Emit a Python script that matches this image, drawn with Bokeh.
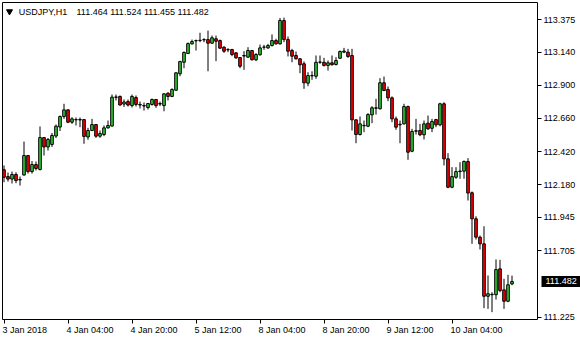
from bokeh.plotting import figure
from bokeh.models import LinearAxis, FixedTicker, PrintfTickFormatter, ColumnDataSource, Label
from bokeh.embed import file_html
from bokeh.resources import INLINE

symbol = "USDJPY,H1"

opens = [
    112.289, 112.240, 112.222, 112.255, 112.219, 112.251, 112.392, 112.276, 112.327, 112.291,
    112.522, 112.454, 112.472, 112.533, 112.598, 112.674, 112.722, 112.633, 112.650, 112.652,
    112.652, 112.526, 112.573, 112.616, 112.532, 112.544, 112.592, 112.605, 112.815, 112.819,
    112.764, 112.782, 112.753, 112.811, 112.761, 112.753, 112.739, 112.761, 112.797, 112.764,
    112.753, 112.842, 112.819, 112.864, 112.983, 113.066, 113.129, 113.199, 113.223, 113.223,
    113.228, 113.230, 113.204, 113.236, 113.223, 113.175, 113.156, 113.158, 113.134, 113.100,
    113.115, 113.103, 113.151, 113.084, 113.120, 113.175, 113.170, 113.187, 113.223, 113.199,
    113.368, 113.230, 113.151, 113.115, 113.091, 113.055, 112.915, 112.970, 112.965, 113.066,
    113.066, 113.043, 113.062, 113.050, 113.095, 113.139, 113.139, 113.115, 112.650, 112.544,
    112.607, 112.604, 112.686, 112.734, 112.730, 112.918, 112.869, 112.809, 112.657, 112.614,
    112.621, 112.746, 112.423, 112.568, 112.573, 112.542, 112.626, 112.589, 112.652, 112.614,
    112.766, 112.368, 112.163, 112.235, 112.276, 112.279, 112.349, 112.123, 111.935, 111.802,
    111.754, 111.375, 111.386, 111.386, 111.573, 111.421, 111.339, 111.464]

highs = [
    112.320, 112.269, 112.276, 112.271, 112.240, 112.493, 112.392, 112.352, 112.349, 112.602,
    112.522, 112.519, 112.555, 112.616, 112.681, 112.766, 112.725, 112.669, 112.667, 112.667,
    112.656, 112.592, 112.657, 112.620, 112.573, 112.609, 112.645, 112.833, 112.833, 112.826,
    112.797, 112.797, 112.833, 112.826, 112.782, 112.775, 112.772, 112.804, 112.800, 112.782,
    112.842, 112.850, 112.878, 112.992, 113.077, 113.144, 113.209, 113.230, 113.230, 113.279,
    113.240, 113.295, 113.259, 113.259, 113.230, 113.182, 113.168, 113.163, 113.139, 113.103,
    113.146, 113.175, 113.155, 113.132, 113.194, 113.192, 113.199, 113.267, 113.236, 113.386,
    113.389, 113.252, 113.163, 113.144, 113.097, 113.072, 112.994, 113.001, 113.115, 113.115,
    113.098, 113.079, 113.115, 113.103, 113.151, 113.170, 113.163, 113.163, 112.652, 112.674,
    112.645, 112.698, 112.748, 112.802, 112.951, 112.963, 112.891, 112.819, 112.674, 112.645,
    112.766, 112.753, 112.585, 112.657, 112.621, 112.645, 112.681, 112.657, 112.657, 112.773,
    112.777, 112.409, 112.308, 112.308, 112.344, 112.356, 112.373, 112.132, 111.953, 111.814,
    111.881, 111.525, 111.404, 111.641, 111.638, 111.501, 111.530, 111.524]

lows = [
    112.199, 112.204, 112.190, 112.192, 112.175, 112.248, 112.262, 112.262, 112.284, 112.284,
    112.392, 112.428, 112.454, 112.519, 112.569, 112.657, 112.626, 112.621, 112.609, 112.597,
    112.477, 112.506, 112.568, 112.520, 112.520, 112.532, 112.587, 112.602, 112.790, 112.753,
    112.743, 112.746, 112.739, 112.746, 112.732, 112.717, 112.725, 112.753, 112.737, 112.750,
    112.712, 112.790, 112.814, 112.862, 112.965, 113.023, 113.127, 113.194, 113.151, 113.211,
    113.211, 113.001, 113.199, 113.074, 113.163, 113.134, 113.139, 113.110, 113.091, 113.023,
    113.011, 113.098, 113.079, 113.074, 113.115, 113.156, 113.163, 113.180, 113.194, 113.194,
    113.211, 113.108, 113.066, 113.086, 112.987, 112.874, 112.893, 112.939, 112.946, 113.055,
    113.035, 113.006, 113.043, 113.043, 113.091, 113.132, 113.098, 112.573, 112.481, 112.537,
    112.561, 112.597, 112.626, 112.688, 112.725, 112.857, 112.785, 112.633, 112.578, 112.481,
    112.616, 112.361, 112.416, 112.544, 112.532, 112.508, 112.578, 112.561, 112.597, 112.604,
    112.320, 112.156, 112.156, 112.224, 112.224, 112.224, 112.067, 111.754, 111.785, 111.713,
    111.289, 111.284, 111.260, 111.351, 111.404, 111.284, 111.332, 111.455]

closes = [
    112.235, 112.222, 112.255, 112.211, 112.216, 112.392, 112.276, 112.327, 112.298, 112.522,
    112.454, 112.508, 112.537, 112.604, 112.674, 112.722, 112.633, 112.657, 112.652, 112.649,
    112.530, 112.573, 112.616, 112.532, 112.551, 112.592, 112.609, 112.814, 112.813, 112.757,
    112.779, 112.757, 112.819, 112.761, 112.757, 112.750, 112.768, 112.797, 112.753, 112.768,
    112.838, 112.819, 112.869, 112.990, 113.071, 113.137, 113.201, 113.216, 113.221, 113.225,
    113.230, 113.204, 113.243, 113.218, 113.168, 113.146, 113.158, 113.122, 113.098, 113.037,
    113.111, 113.151, 113.084, 113.122, 113.170, 113.176, 113.187, 113.223, 113.199, 113.368,
    113.230, 113.146, 113.110, 113.091, 113.048, 112.918, 112.970, 112.968, 113.066, 113.068,
    113.043, 113.062, 113.048, 113.079, 113.144, 113.147, 113.108, 112.650, 112.544, 112.621,
    112.610, 112.688, 112.737, 112.737, 112.918, 112.862, 112.809, 112.657, 112.597, 112.618,
    112.746, 112.416, 112.566, 112.571, 112.542, 112.621, 112.585, 112.638, 112.614, 112.766,
    112.368, 112.163, 112.240, 112.276, 112.280, 112.349, 112.121, 111.935, 111.802, 111.754,
    111.375, 111.393, 111.389, 111.568, 111.416, 111.339, 111.458, 111.482]

bar_index = list(range(len(opens)))

x_tick_bars = [0, 16, 32, 48, 64, 80, 96, 112]
x_tick_labels = ["3 Jan 2018", "4 Jan 04:00", "4 Jan 20:00", "5 Jan 12:00",
                 "8 Jan 04:00", "8 Jan 20:00", "9 Jan 12:00", "10 Jan 04:00"]
price_ticks = [113.375, 113.140, 112.900, 112.660, 112.420, 112.180, 111.945, 111.705, 111.225]

FONT = "Liberation Sans"
FONT_PX = 9
BULL = "#32cd32"
BEAR = "#ff0000"
PX_PER_BAR = 4.0


def text_width_px(s):
    w = {" ": 0.278, ":": 0.278, "J": 0.5, ".": 0.278}
    return FONT_PX * sum(w.get(ch, 0.556) for ch in s)


# MT4 draws date labels starting at the tick: centre them half a label width to the right
label_pos = [round(b + (text_width_px(t) / 2 - 1.5) / PX_PER_BAR, 4)
             for b, t in zip(x_tick_bars, x_tick_labels)]

src = ColumnDataSource(dict(
    x=bar_index,
    high=highs,
    low=lows,
    top=[max(o, c) for o, c in zip(opens, closes)],
    bottom=[min(o, c) for o, c in zip(opens, closes)],
    color=[BULL if c > o else BEAR for o, c in zip(opens, closes)],
))

RIGHT_BORDER = 43
p = figure(width=580, height=340, x_range=(-0.375, 133.375), y_range=(111.207, 113.498),
           output_backend="svg", toolbar_location=None,
           x_axis_location=None, y_axis_location=None,
           min_border_left=2, min_border_top=2, min_border_right=RIGHT_BORDER,
           min_border_bottom=21)
p.background_fill_color = "white"
p.border_fill_color = "white"
p.outline_line_color = "black"
p.outline_line_width = 1
p.outline_line_alpha = 1.0
for g in p.grid:
    g.visible = False

# bottom axis 1: tick marks only
xticks = LinearAxis(ticker=FixedTicker(ticks=x_tick_bars))
xticks.axis_line_color = None
xticks.major_tick_in = 0
xticks.major_tick_out = 4
xticks.major_tick_line_color = "black"
xticks.minor_tick_line_color = None
xticks.major_label_standoff = 0
xticks.major_label_text_font_size = "0px"
xticks.major_label_overrides = {b: "" for b in x_tick_bars}
p.add_layout(xticks, "below")

# bottom axis 2: date labels, left-aligned at their ticks
xlabels = LinearAxis(ticker=FixedTicker(ticks=label_pos),
                     major_label_overrides={pos: t for pos, t in zip(label_pos, x_tick_labels)})
xlabels.axis_line_color = None
xlabels.major_tick_in = 0
xlabels.major_tick_out = 0
xlabels.major_tick_line_color = None
xlabels.minor_tick_line_color = None
xlabels.major_label_standoff = 1
xlabels.major_label_text_font = FONT
xlabels.major_label_text_font_size = f"{FONT_PX}px"
xlabels.major_label_text_color = "black"
p.add_layout(xlabels, "below")

# right price scale
TICK_OUT = 4
STANDOFF = 2
yaxis = LinearAxis(ticker=FixedTicker(ticks=price_ticks),
                   formatter=PrintfTickFormatter(format="%.3f"))
yaxis.axis_line_color = None
yaxis.major_tick_in = 0
yaxis.major_tick_out = TICK_OUT
yaxis.major_tick_line_color = "black"
yaxis.minor_tick_line_color = None
yaxis.major_label_standoff = STANDOFF
yaxis.major_label_text_font = FONT
yaxis.major_label_text_font_size = f"{FONT_PX}px"
yaxis.major_label_text_color = "black"
p.add_layout(yaxis, "right")

# current-price tag: an outer scale whose single thick tick forms the black box
scale_extent = TICK_OUT + STANDOFF + text_width_px("113.375")
tag_origin = scale_extent                  # distance of the outer scale from the frame
tag_out = int(round(RIGHT_BORDER - tag_origin))
tag_in = int(round(tag_origin - 2))
tag = LinearAxis(ticker=FixedTicker(ticks=[closes[-1]]),
                 formatter=PrintfTickFormatter(format="%.3f"))
tag.axis_line_color = None
tag.minor_tick_line_color = None
tag.major_tick_in = tag_in
tag.major_tick_out = tag_out
tag.major_tick_line_color = "black"
tag.major_tick_line_width = 11
tag.major_tick_line_cap = "butt"
tag.major_label_standoff = int(round(6 - RIGHT_BORDER))
tag.major_label_text_font = FONT
tag.major_label_text_font_size = f"{FONT_PX}px"
tag.major_label_text_color = "white"
p.add_layout(tag, "right")

p.segment(x0="x", y0="high", x1="x", y1="low", source=src, line_color="black", line_width=1)
p.vbar(x="x", top="top", bottom="bottom", width=0.65, source=src,
       fill_color="color", line_color="black", line_width=1)

# header: symbol and last bar OHLC
p.scatter(x=[1.375], y=[113.433], marker="inverted_triangle", size=6,
          fill_color="black", line_color="black")
p.add_layout(Label(x=3.7, y=113.428, text=symbol, text_font=FONT, text_font_size=f"{FONT_PX}px",
                   text_color="black", text_baseline="middle", text_align="left"))
ohlc_text = " ".join(f"{v:.3f}" for v in (opens[-1], highs[-1], lows[-1], closes[-1]))
p.add_layout(Label(x=18.125, y=113.428, text=ohlc_text, text_font=FONT,
                   text_font_size=f"{FONT_PX}px",
                   text_color="black", text_baseline="middle", text_align="left"))

open("out.html", "w").write(file_html(p, INLINE))
